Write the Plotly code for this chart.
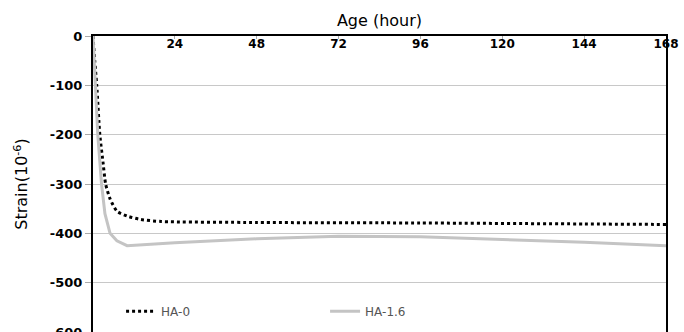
import plotly.graph_objects as go

hours_ha0 = [0, 0.5, 1.1, 2, 3, 3.7, 5, 7, 10, 14, 20, 48, 96, 144, 168]
strain_ha0 = [0, -50, -100, -200, -260, -300, -330, -355, -365, -372, -376, -378, -379, -381, -382]

hours_ha16 = [0, 0.3, 0.6, 1.4, 2.5, 3.5, 5, 7, 10, 24, 48, 72, 96, 120, 144, 168]
strain_ha16 = [0, -50, -100, -200, -300, -360, -400, -415, -425, -419, -411, -406, -407, -412, -418, -425]

x_ticks = [24, 48, 72, 96, 120, 144, 168]
y_ticks = [0, -100, -200, -300, -400, -500, -600]
y_tick_text = ["0", "-100", "-200", "-300", "-400", "-500", "-600"]

fig = go.Figure()
fig.add_trace(go.Scatter(x=hours_ha0, y=strain_ha0, name="HA-0", mode="lines",
                         line=dict(color="#000000", width=3, dash="dot", shape="spline", smoothing=0.6)))
fig.add_trace(go.Scatter(x=hours_ha16, y=strain_ha16, name="HA-1.6", mode="lines",
                         line=dict(color="#c4c4c4", width=3)))

fig.update_layout(
    width=684, height=332,
    margin=dict(l=93, r=18, t=36, b=0, autoexpand=False),
    plot_bgcolor="white", paper_bgcolor="white",
    font=dict(family="DejaVu Sans", color="#000000"),
    showlegend=True,
    legend=dict(orientation="h", x=0.049, y=0.07, xanchor="left", yanchor="middle",
                entrywidth=159, font=dict(size=12, color="#555555"),
                bgcolor="rgba(0,0,0,0)"),
    xaxis=dict(side="top", range=[0, 168], tickvals=x_ticks,
               ticktext=[str(v) for v in x_ticks], automargin=False,
               ticklabelposition="inside", ticklabeloverflow="allow",
               ticks="inside", ticklen=3, tickcolor="#aaaaaa",
               showgrid=False, zeroline=False,
               showline=True, linecolor="#000000", linewidth=2, mirror=True,
               tickfont=dict(family="DejaVu Sans", size=12, color="#000000", weight="bold"),
               title=dict(text="Age (hour)", font=dict(size=16, family="DejaVu Sans"), standoff=6)),
    yaxis=dict(range=[-600, 0], tickvals=y_ticks, ticktext=y_tick_text, automargin=False,
               ticklabeloverflow="allow",
               showgrid=True, gridcolor="#c8c8c8", gridwidth=1, zeroline=False,
               showline=True, linecolor="#000000", linewidth=2, mirror=True,
               ticks="outside", ticklen=6, tickcolor="#aaaaaa",
               tickfont=dict(family="DejaVu Sans", size=13, color="#000000", weight="bold"),
               title=dict(text="Strain(10<sup>-6</sup>)", font=dict(size=16, family="DejaVu Sans"), standoff=18)),
)

fig.write_html("out.html", config={"displayModeBar": False},
               post_script="document.body.style.margin='0px';document.body.style.overflow='hidden';")
